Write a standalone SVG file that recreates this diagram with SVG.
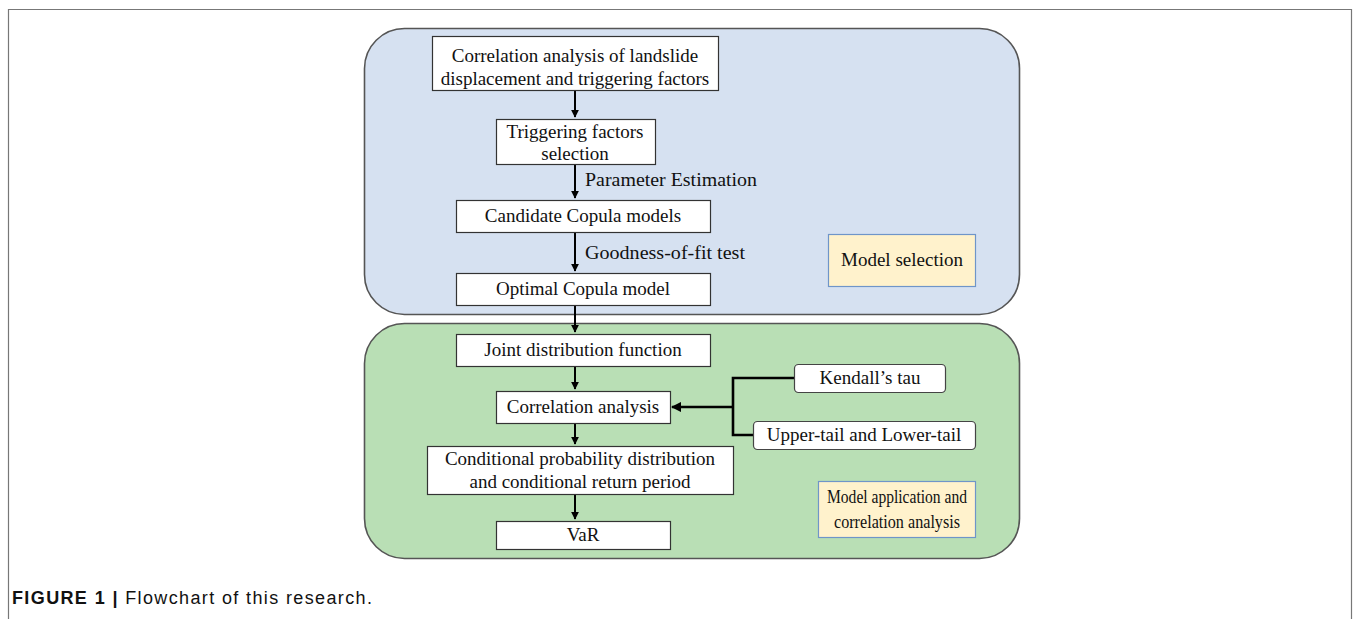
<svg xmlns="http://www.w3.org/2000/svg" width="1356" height="619" viewBox="0 0 1356 619">
<defs>
<style>
.t{font-family:"Liberation Serif","Times New Roman",serif;font-size:19px;fill:#111;text-anchor:middle}
.lbl{font-family:"Liberation Serif","Times New Roman",serif;font-size:19px;fill:#111;text-anchor:start}
.box{fill:#fff;stroke:#333;stroke-width:1.2}
.rbox{fill:#fff;stroke:#444;stroke-width:1.2}
.note{fill:#fff2cc;stroke:#6f95c9;stroke-width:1.2}
.ln{fill:none;stroke:#000;stroke-width:2}
.br{fill:none;stroke:#000;stroke-width:2.6}
</style>
<marker id="ah" viewBox="0 0 10 10" refX="9" refY="5" markerWidth="4" markerHeight="4" orient="auto" markerUnits="strokeWidth">
<path d="M0,0 L10,5 L0,10 z" fill="#000"/>
</marker>
</defs>
<rect width="1356" height="619" fill="#fff"/>
<g id="frame">
<path d="M8.5,619 V9.5 H1351.5 V619" fill="none" stroke="#777" stroke-width="1.2"/>
</g>
<g id="panel-selection">
<rect x="364.5" y="28.5" width="655" height="286" rx="40" fill="#d6e1f1" stroke="#555" stroke-width="1.6"/>
</g>
<g id="panel-application">
<rect x="364.5" y="323.5" width="655" height="235" rx="40" fill="#b9dfb5" stroke="#555" stroke-width="1.6"/>
</g>
<g id="connectors">
<line class="ln" x1="575" y1="90" x2="575" y2="117" marker-end="url(#ah)"/>
<line class="ln" x1="575" y1="164" x2="575" y2="198" marker-end="url(#ah)"/>
<line class="ln" x1="575" y1="232" x2="575" y2="271" marker-end="url(#ah)"/>
<line class="ln" x1="575" y1="305" x2="575" y2="332" marker-end="url(#ah)"/>
<line class="ln" x1="575" y1="366" x2="575" y2="389" marker-end="url(#ah)"/>
<line class="ln" x1="575" y1="423" x2="575" y2="444" marker-end="url(#ah)"/>
<line class="ln" x1="575" y1="494" x2="575" y2="519" marker-end="url(#ah)"/>
<path class="br" d="M794,378 H733 V435 H753"/>
<line class="br" x1="733" y1="407" x2="672" y2="407" marker-end="url(#ah)"/>
<text class="lbl" x="585" y="186" textLength="172" lengthAdjust="spacingAndGlyphs">Parameter Estimation</text>
<text class="lbl" x="585" y="259" textLength="160" lengthAdjust="spacingAndGlyphs">Goodness-of-fit test</text>
</g>
<g id="n1">
<rect class="box" x="432.5" y="36.5" width="286" height="54"/>
<text class="t" x="575" y="62">Correlation analysis of landslide</text>
<text class="t" x="575" y="85">displacement and triggering factors</text>
</g>
<g id="n2">
<rect class="box" x="496.5" y="119.5" width="159" height="45"/>
<text class="t" x="575" y="138">Triggering factors</text>
<text class="t" x="575" y="160">selection</text>
</g>
<g id="n3">
<rect class="box" x="456.5" y="200.5" width="254" height="32"/>
<text class="t" x="583" y="222">Candidate Copula models</text>
</g>
<g id="n4">
<rect class="box" x="456.5" y="273.5" width="254" height="32"/>
<text class="t" x="583" y="295">Optimal Copula model</text>
</g>
<g id="n5">
<rect class="box" x="456.5" y="334.5" width="254" height="32"/>
<text class="t" x="583" y="356">Joint distribution function</text>
</g>
<g id="n6">
<rect class="box" x="496.5" y="391.5" width="174" height="32"/>
<text class="t" x="583" y="413">Correlation analysis</text>
</g>
<g id="n7">
<rect class="box" x="427.5" y="446.5" width="306" height="48"/>
<text class="t" x="580" y="465">Conditional probability distribution</text>
<text class="t" x="580" y="488">and conditional return period</text>
</g>
<g id="n8">
<rect class="box" x="496.5" y="521.5" width="174" height="28"/>
<text class="t" x="583" y="541">VaR</text>
</g>
<g id="kendall">
<rect class="rbox" x="794.5" y="364.5" width="151" height="28" rx="4"/>
<text class="t" x="870" y="384">Kendall’s tau</text>
</g>
<g id="tail">
<rect class="rbox" x="753.5" y="421.5" width="222" height="28" rx="4"/>
<text class="t" x="864" y="441">Upper-tail and Lower-tail</text>
</g>
<g id="note-selection">
<rect class="note" x="828.5" y="234.5" width="147" height="52"/>
<text class="t" x="902" y="266">Model selection</text>
</g>
<g id="note-application">
<rect class="note" x="818.5" y="481.5" width="157" height="56" stroke="#4472c4"/>
<text class="t" x="897" y="503" textLength="140" lengthAdjust="spacingAndGlyphs">Model application and</text>
<text class="t" x="897" y="528" textLength="126" lengthAdjust="spacingAndGlyphs">correlation analysis</text>
</g>
<g id="caption">
<text x="12" y="604" font-family="'Liberation Sans',Arial,sans-serif" font-size="18" fill="#111" textLength="360" lengthAdjust="spacing"><tspan font-weight="bold">FIGURE 1 |</tspan> Flowchart of this research.</text>
</g>
</svg>
